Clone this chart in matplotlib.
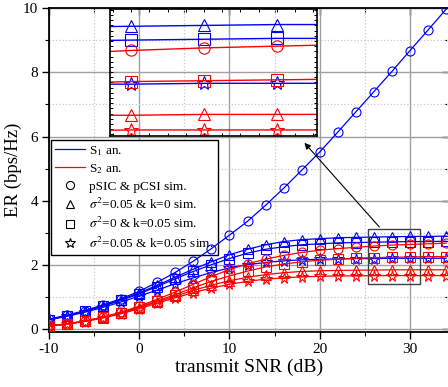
import matplotlib.pyplot as plt
from matplotlib.ticker import MultipleLocator, NullFormatter
from matplotlib.patches import Rectangle
from matplotlib.lines import Line2D

plt.rcParams['font.family'] = ['Liberation Serif', 'DejaVu Serif']
plt.rcParams['mathtext.fontset'] = 'stix'
plt.rcParams['axes.unicode_minus'] = False

# ---------------- data ----------------
snr = [-10, -8, -6, -4, -2, 0, 2, 4, 6, 8, 10, 12, 14, 16, 18, 20, 22, 24, 26, 28, 30, 32, 34]

# user 1 (blue)
s1_psic = [0.31, 0.44, 0.58, 0.76, 0.95, 1.18, 1.46, 1.77, 2.12, 2.51, 2.93, 3.36, 3.86, 4.39, 4.95,
           5.52, 6.14, 6.77, 7.40, 8.03, 8.68, 9.32, 9.97]
s1_sig = [0.30, 0.42, 0.56, 0.73, 0.92, 1.13, 1.37, 1.62, 1.87, 2.10, 2.32, 2.49, 2.63, 2.73, 2.79,
          2.82, 2.85, 2.86, 2.87, 2.88, 2.89, 2.89, 2.90]
s1_k = [0.30, 0.42, 0.56, 0.72, 0.90, 1.10, 1.33, 1.57, 1.80, 2.01, 2.20, 2.37, 2.49, 2.57, 2.63,
        2.66, 2.69, 2.70, 2.71, 2.72, 2.73, 2.73, 2.74]
s1_both = [0.29, 0.40, 0.53, 0.68, 0.85, 1.03, 1.22, 1.42, 1.60, 1.77, 1.91, 2.01, 2.08, 2.13, 2.16,
           2.18, 2.19, 2.20, 2.20, 2.21, 2.21, 2.21, 2.21]

# user 2 (red)
s2_psic = [0.10, 0.17, 0.26, 0.38, 0.53, 0.72, 0.93, 1.16, 1.40, 1.64, 1.86, 2.04, 2.18, 2.30, 2.39,
           2.46, 2.51, 2.55, 2.59, 2.62, 2.64, 2.66, 2.68]
s2_sig = [0.10, 0.16, 0.25, 0.36, 0.50, 0.67, 0.85, 1.03, 1.21, 1.37, 1.51, 1.62, 1.70, 1.76, 1.80,
          1.82, 1.83, 1.84, 1.84, 1.85, 1.85, 1.85, 1.85]
s2_k = [0.10, 0.16, 0.25, 0.37, 0.51, 0.69, 0.88, 1.08, 1.29, 1.49, 1.66, 1.81, 1.94, 2.03, 2.10,
        2.15, 2.18, 2.21, 2.23, 2.24, 2.25, 2.26, 2.26]
s2_both = [0.10, 0.16, 0.24, 0.35, 0.48, 0.64, 0.81, 0.98, 1.14, 1.28, 1.40, 1.49, 1.56, 1.60, 1.63,
           1.65, 1.66, 1.66, 1.67, 1.67, 1.67, 1.67, 1.67]

curves = [(s1_psic, 'blue', 'o'), (s1_sig, 'blue', '^'), (s1_k, 'blue', 's'), (s1_both, 'blue', '*'),
          (s2_psic, 'red', 'o'), (s2_sig, 'red', '^'), (s2_k, 'red', 's'), (s2_both, 'red', '*')]
msize = {'o': 6.5, '^': 7, 's': 6.5, '*': 8.5}

legend_labels = ['S$_1$ an.', 'S$_2$ an.', 'pSIC & pCSI sim.', r'$\sigma^2$=0.05 & k=0 sim.',
                 r'$\sigma^2$=0 & k=0.05 sim.', r'$\sigma^2$=0.05 & k=0.05 sim.']

##########################################################################

fig = plt.figure(figsize=(4.48, 3.87), dpi=100)
ax = fig.add_axes([0.109, 0.141, 0.893, 0.838])

for y, c, m in curves:
    ax.plot(snr, y, color=c, lw=0.9, marker=m, mfc='none', mec=c, ms=msize[m], mew=0.8, zorder=3)

ax.set_xlim(-10, 34.3)
ax.set_ylim(-0.1, 10)
ax.xaxis.set_major_locator(MultipleLocator(10))
ax.xaxis.set_minor_locator(MultipleLocator(5))
ax.yaxis.set_major_locator(MultipleLocator(2))
ax.yaxis.set_minor_locator(MultipleLocator(1))
ax.grid(which='major', color='#a0a0a0', linestyle='-', linewidth=1.0)
ax.grid(which='minor', color='#c8c8c8', linestyle=':', linewidth=0.9)
ax.set_axisbelow(True)
ax.tick_params(which='major', direction='out', length=5, width=1.0, labelsize=11, pad=2.5)
ax.tick_params(which='minor', direction='out', length=3, width=0.8)
for sp in ax.spines.values():
    sp.set_linewidth(1.3)

top = ax.secondary_xaxis('top')
top.xaxis.set_major_locator(MultipleLocator(10))
top.xaxis.set_minor_locator(MultipleLocator(5))
top.tick_params(which='major', direction='in', length=5, width=1.0, labeltop=False)
top.tick_params(which='minor', direction='in', length=3, width=0.8)
right = ax.secondary_yaxis('right')
right.yaxis.set_major_locator(MultipleLocator(2))
right.yaxis.set_minor_locator(MultipleLocator(1))
right.tick_params(which='major', direction='in', length=5, width=1.0, labelright=False)
right.tick_params(which='minor', direction='in', length=3, width=0.8)

ax.set_xlabel('transmit SNR (dB)', fontsize=14, labelpad=2)
ax.set_ylabel('ER (bps/Hz)', fontsize=13.5, labelpad=1)

# legend
handles = [Line2D([], [], color='blue', lw=0.9), Line2D([], [], color='red', lw=0.9)]
for m in ['o', '^', 's', '*']:
    handles.append(Line2D([], [], ls='none', marker=m, mfc='none', mec='black', ms=msize[m] * 0.9, mew=0.8))
leg = ax.legend(handles, legend_labels, loc='upper left', bbox_to_anchor=(51 / 448, 1 - 140 / 387),
                bbox_transform=fig.transFigure, fontsize=9.5, frameon=True, fancybox=False,
                edgecolor='black', framealpha=1, borderpad=0.3, labelspacing=0.33,
                handlelength=2.3, handletextpad=0.3, borderaxespad=0)
leg.get_frame().set_linewidth(1.0)
leg.set_zorder(1.5)

# zoom box and arrow
ax.add_patch(Rectangle((25.3, 1.41), 5.8, 1.71, fill=False, edgecolor='#404040', lw=1.0, zorder=4))
ax.annotate('', xy=(18.1, 5.87), xytext=(26.8, 3.12),
            arrowprops=dict(arrowstyle='-|>', color='black', lw=0.8, mutation_scale=9), zorder=4)

# inset
axin = fig.add_axes([110 / 448, 1 - 136 / 387, 207 / 448, 127 / 387])
axin.patch.set_alpha(0)
for y, c, m in curves:
    axin.plot(snr, y, color=c, lw=1.0, marker=m, mfc='none', mec=c, ms=msize[m] * 1.25, mew=0.8)
axin.set_xlim(25.42, 31.1)
axin.set_ylim(1.60, 3.07)
axin.xaxis.set_major_locator(MultipleLocator(1.5))
axin.xaxis.set_minor_locator(MultipleLocator(0.5))
axin.yaxis.set_major_locator(MultipleLocator(0.3))
axin.yaxis.set_minor_locator(MultipleLocator(0.06))
axin.xaxis.set_major_formatter(NullFormatter())
axin.yaxis.set_major_formatter(NullFormatter())
axin.tick_params(which='both', direction='in', top=True, right=True, length=2.5, width=0.7)
for sp in axin.spines.values():
    sp.set_linewidth(1.2)

fig.savefig('out.png', dpi=100)
